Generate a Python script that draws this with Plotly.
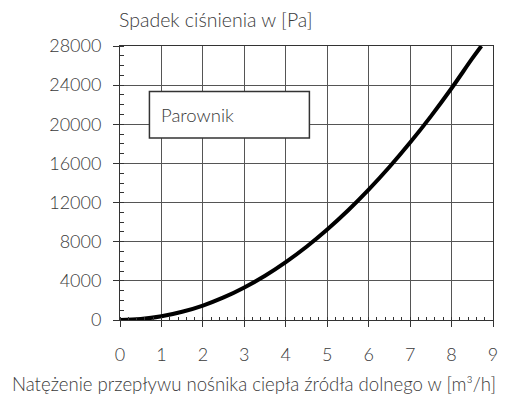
import plotly.graph_objects as go

# Flow rate of the lower heat source [m³/h] and evaporator pressure drop [Pa]
flow = [0, 0.5, 1, 1.5, 2, 2.5, 3, 3.5, 4, 4.5, 5, 5.5, 6, 6.5, 7, 7.5, 8, 8.5, 8.72]
pressure_drop = [0, 95, 375, 840, 1480, 2310, 3330, 4530, 5920, 7490, 9250, 11190,
                 13320, 15630, 18130, 20810, 23680, 26730, 28000]

x_ticks = [0, 1, 2, 3, 4, 5, 6, 7, 8, 9]
y_ticks = [0, 4000, 8000, 12000, 16000, 20000, 24000, 28000]

FONT = "Lato"
TXT = "#3a3a3a"

fig = go.Figure()
fig.add_trace(go.Scatter(
    x=flow, y=pressure_drop, mode="lines",
    line=dict(color="black", width=4, shape="spline"),
    hoverinfo="skip", showlegend=False,
))

fig.update_layout(
    width=505, height=397,
    margin=dict(l=120, r=7, t=46, b=77),
    paper_bgcolor="white", plot_bgcolor="white",
    font=dict(family=FONT, size=18, color=TXT, weight=300),
    xaxis=dict(
        range=[0, 9], tickvals=x_ticks, ticktext=[str(v) for v in x_ticks],
        showgrid=True, gridcolor="#555", gridwidth=1,
        ticks="outside", ticklen=6, tickcolor="#333", tickwidth=1,
        minor=dict(dtick=0.2, ticks="inside", ticklen=3, tickcolor="#333", showgrid=False),
        showline=True, linecolor="#333", linewidth=1, mirror=True,
        zeroline=False, ticklabelstandoff=12,
    ),
    yaxis=dict(
        range=[0, 28000], tickvals=y_ticks, ticktext=[str(v) for v in y_ticks],
        showgrid=True, gridcolor="#555", gridwidth=1,
        ticks="outside", ticklen=6, tickcolor="#333", tickwidth=1,
        minor=dict(dtick=1000, ticks="inside", ticklen=4, tickcolor="#333", showgrid=False),
        showline=True, linecolor="#333", linewidth=1, mirror=True,
        zeroline=True, zerolinecolor="black", zerolinewidth=2,
        ticklabelstandoff=8,
    ),
    shapes=[
        # caption box
        dict(type="rect", xref="x", yref="y", x0=0.71, x1=4.57, y0=18600, y1=23350,
             line=dict(color="#333", width=1.5), fillcolor="white", layer="above"),
    ],
    annotations=[
        dict(text="Spadek ciśnienia w [Pa]", xref="paper", yref="paper",
             x=0, y=1, xshift=-3, yshift=13, xanchor="left", yanchor="bottom",
             showarrow=False, font=dict(size=19.5)),
        dict(text="Natężenie przepływu nośnika ciepła źródła dolnego w [m³/h]",
             xref="paper", yref="paper", x=0.5, y=0, xshift=-53, yshift=-51,
             xanchor="center", yanchor="top", showarrow=False, font=dict(size=18.6)),
        dict(text="Parownik", xref="x", yref="y", x=0.71, y=20975, xshift=10,
             xanchor="left", yanchor="middle", showarrow=False, font=dict(size=18.5)),
    ],
)

fig.write_html("out.html")
